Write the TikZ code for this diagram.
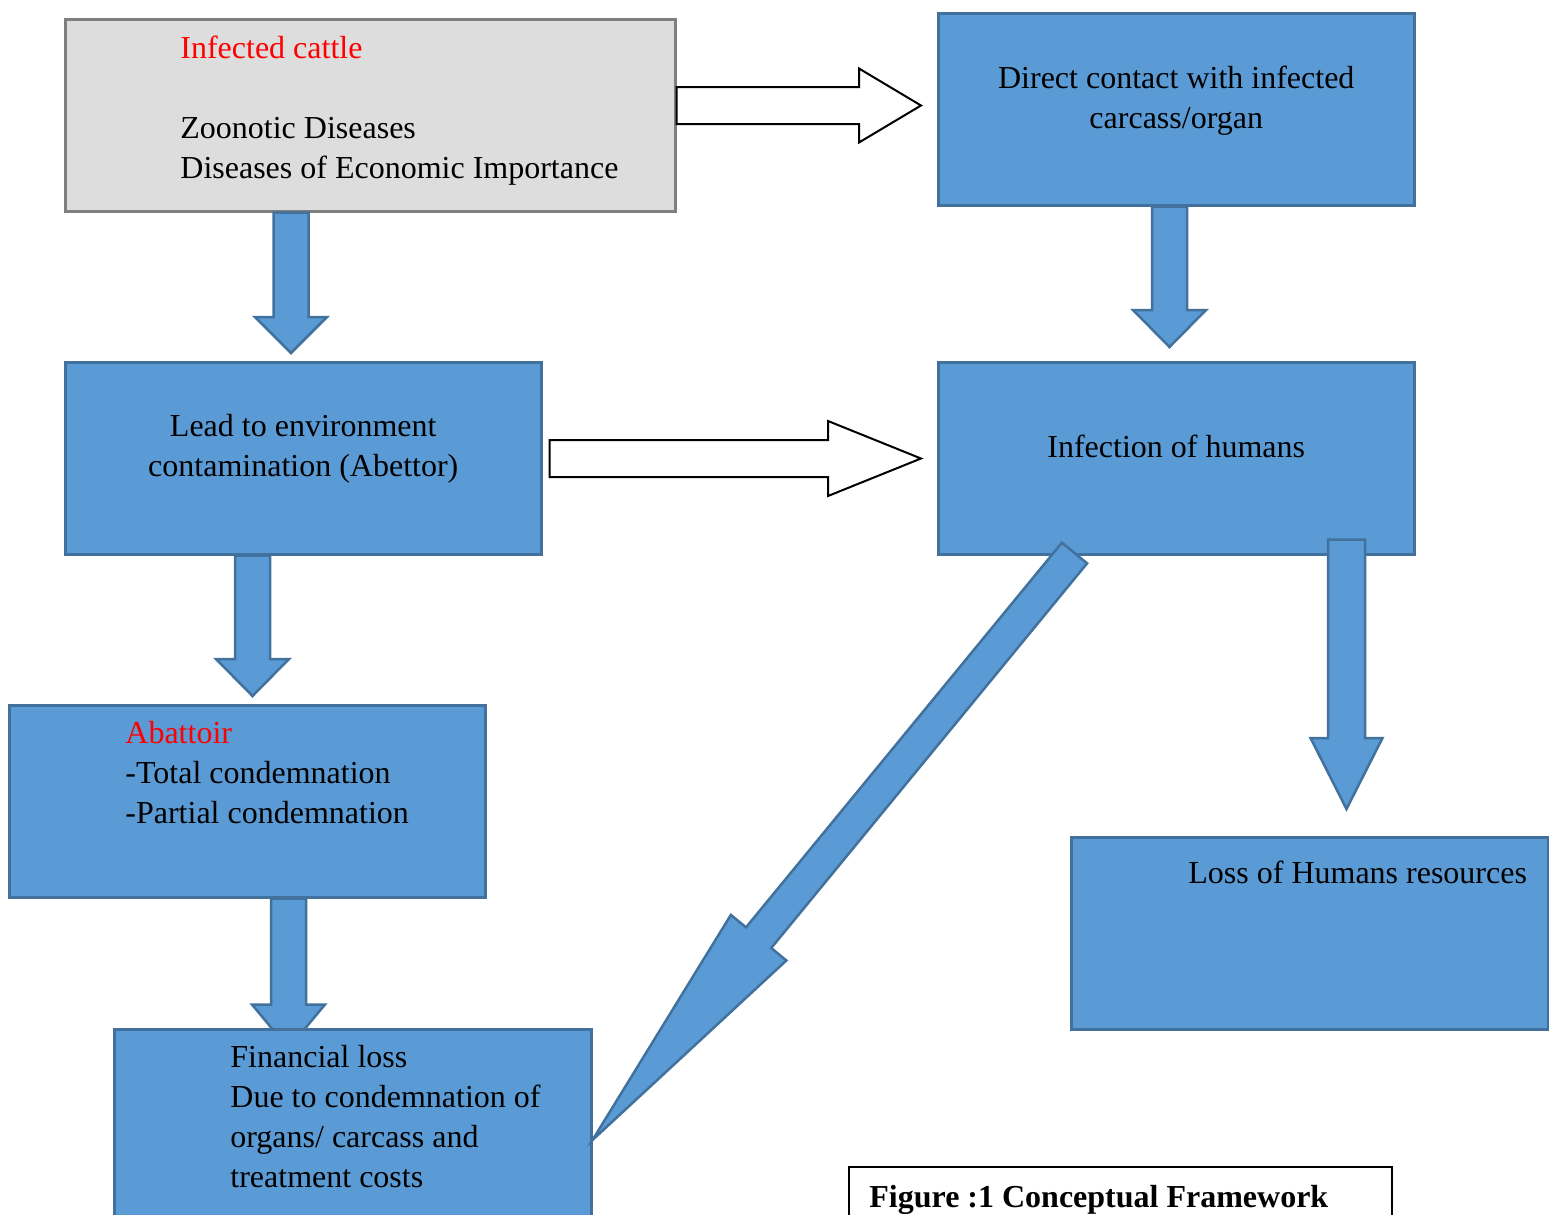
\documentclass[tikz,border=0pt]{standalone}
\usepackage{fontspec}
\setmainfont{Liberation Serif}
\usepackage{tikz}
\usetikzlibrary{calc}

\definecolor{boxblue}{HTML}{5B9BD5}
\definecolor{boxline}{HTML}{41719C}
\definecolor{cattlegray}{HTML}{DDDDDD}
\definecolor{cattleline}{HTML}{7F7F7F}

\tikzset{
  bluebox/.style={draw=boxline, fill=boxblue, line width=1.25pt, rectangle, inner sep=0pt, anchor=north west},
  graybox/.style={draw=cattleline, fill=cattlegray, line width=1.25pt, rectangle, inner sep=0pt, anchor=north west},
  captionbox/.style={draw=black, fill=white, line width=0.75pt, rectangle, inner sep=0pt, anchor=north west},
  txt/.style={font=\fontsize{16pt}{20pt}\selectfont, inner sep=0pt, align=left, anchor=north west},
  ctxt/.style={txt, align=center, anchor=north},
  fatblue/.style={draw=boxline, fill=boxblue, line width=1.25pt},
  fatwhite/.style={draw=black, fill=white, line width=1pt}
}

% tail, tip, shaft half width, head half width, head length
\newcommand{\blockarrow}[6][]{%
  \coordinate (ba-tail) at (#2);
  \coordinate (ba-tip) at (#3);
  \coordinate (ba-neck) at ($(ba-tip)!#6!(ba-tail)$);
  \draw[#1] ($(ba-tail)!#4!90:(ba-tip)$) -- ($(ba-neck)!#4!90:(ba-tip)$)
    -- ($(ba-neck)!#5!90:(ba-tip)$) -- (ba-tip)
    -- ($(ba-neck)!#5!-90:(ba-tip)$) -- ($(ba-neck)!#4!-90:(ba-tip)$)
    -- ($(ba-tail)!#4!-90:(ba-tip)$) -- cycle;
}

\begin{document}
\begin{tikzpicture}[x=0.5pt, y=-0.5pt]
\useasboundingbox (0,0) rectangle (1549,1215);
\clip (0,0) rectangle (1549,1215);

% boxes
\node[graybox, minimum width=305pt, minimum height=96pt] (cattle) at (64,18) {};
\node[bluebox, minimum width=238pt, minimum height=96pt] (contact) at (937,12) {};
\node[bluebox, minimum width=238pt, minimum height=96pt] (contam) at (64,361) {};
\node[bluebox, minimum width=238pt, minimum height=96pt] (humans) at (937,361) {};
\node[bluebox, minimum width=238pt, minimum height=96pt] (abattoir) at (8,704) {};
\node[bluebox, minimum width=238.5pt, minimum height=96pt] (hrloss) at (1070,836) {};

% texts
\node[txt] (cattletxt) at ($(cattle.north west)+(116,12)$)
  {\strut\textcolor{red}{Infected cattle}\\ \\Zoonotic Diseases\\Diseases of Economic Importance};
\node[ctxt] (contacttxt) at ($(contact.north)+(0,48)$) {\strut Direct contact with infected\\carcass/organ};
\node[ctxt] (contamtxt) at ($(contam.north)+(0,47)$) {\strut Lead to environment\\contamination (Abettor)};
\node[ctxt] (humanstxt) at ($(humans.north)+(0,68)$) {\strut Infection of humans};
\node[txt] (abattoirtxt) at ($(abattoir.north west)+(117,11)$)
  {\strut\textcolor{red}{Abattoir}\\-Total condemnation\\-Partial condemnation};
\node[txt] (hrlosstxt) at ($(hrloss.north west)+(118,19)$) {\strut Loss of Humans resources};

% block arrows
\blockarrow[fatblue]{$(cattle.south west)+(227,0)$}{$(contam.north west)+(227,-8)$}{8.75pt}{18pt}{18pt}
\blockarrow[fatblue]{$(contact.south west)+(232.5,0)$}{$(humans.north west)+(232.5,-14)$}{8.75pt}{18.25pt}{18.5pt}
\blockarrow[fatblue]{$(contam.south west)+(188.5,0)$}{$(abattoir.north west)+(244.5,-8)$}{8.75pt}{18.25pt}{18.5pt}
\blockarrow[fatblue]{$(humans.south west)+(409.5,-16)$}{$(hrloss.north west)+(276.5,-27)$}{9.25pt}{18pt}{35.5pt}
\blockarrow[fatwhite]{$(cattle.north east)+(0,87.5)$}{$(contact.north west)+(-16,93.5)$}{9.25pt}{18.5pt}{31pt}
\blockarrow[fatwhite]{$(contam.north east)+(7,97.5)$}{$(humans.north west)+(-16,97.5)$}{9.25pt}{18.75pt}{46.5pt}
\blockarrow[fatblue]{$(abattoir.south west)+(280.5,0)$}{$(abattoir.south west)+(280.5,150)$}{8.75pt}{18.25pt}{22pt}

\node[bluebox, minimum width=238.5pt, minimum height=100pt] (finance) at (113,1028) {};
\node[txt] (financetxt) at ($(finance.north west)+(117,11)$)
  {\strut Financial loss\\Due to condemnation of\\organs/ carcass and\\treatment costs};

\blockarrow[fatblue]{$(humans.south west)+(137.5,-2.5)$}{$(finance.north east)+(0,112)$}{8.15pt}{17.95pt}{130.9pt}

\node[captionbox, minimum width=271.5pt, minimum height=40pt] (caption) at (848,1166) {};
\node[txt] (captiontxt) at ($(caption.north west)+(21,13)$) {\strut\textbf{Figure :1 Conceptual Framework}};
\end{tikzpicture}
\end{document}
